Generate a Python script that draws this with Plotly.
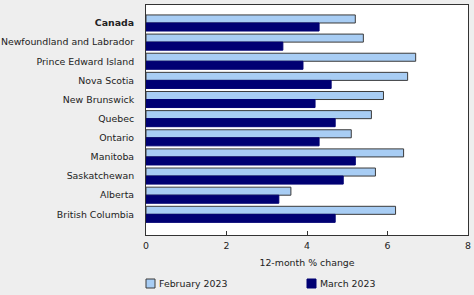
import plotly.graph_objects as go

regions = ["Canada", "Newfoundland and Labrador", "Prince Edward Island", "Nova Scotia",
           "New Brunswick", "Quebec", "Ontario", "Manitoba", "Saskatchewan", "Alberta",
           "British Columbia"]
region_labels = ["<b>Canada</b>"] + regions[1:]
feb_2023 = [5.2, 5.4, 6.7, 6.5, 5.9, 5.6, 5.1, 6.4, 5.7, 3.6, 6.2]
mar_2023 = [4.3, 3.4, 3.9, 4.6, 4.2, 4.7, 4.3, 5.2, 4.9, 3.3, 4.7]
x_ticks = [0, 2, 4, 6, 8]
series_names = ["February 2023", "March 2023"]
series_colors = ["#a8cdf4", "#000073"]
outline_colors = ["#3a3a3a", "#000073"]

FONT = "DejaVu Sans"
FS = 9.4

fig = go.Figure()
for name, vals, col, oc in zip(series_names, [feb_2023, mar_2023], series_colors, outline_colors):
    fig.add_trace(go.Bar(y=regions, x=vals, orientation="h", name=name,
                         marker=dict(color=col, line=dict(color=oc, width=1))))

# plot area in pixels: x 146..468, y 5..235
L, R, T, B = 146, 468, 5, 235
W, H = R - L, B - T
def px(x):
    return (x - L) / W
def py(y):
    return (B - y) / H

# manual legend
legend_x = [146, 307]
for name, col, oc, lx in zip(series_names, series_colors, outline_colors, legend_x):
    fig.add_shape(type="rect", xref="paper", yref="paper",
                  x0=px(lx), x1=px(lx + 9), y0=py(288), y1=py(279),
                  fillcolor=col, line=dict(color=oc, width=1))
    fig.add_annotation(xref="paper", yref="paper", x=px(lx + 11), y=py(283.5),
                       text=name, showarrow=False, xanchor="left", yanchor="middle",
                       font=dict(family=FONT, size=FS, color="#222222"))

fig.update_layout(
    width=474, height=295,
    margin=dict(l=L, r=474 - R, t=T, b=295 - B, autoexpand=False),
    paper_bgcolor="#eeeeee", plot_bgcolor="#ffffff",
    font=dict(family=FONT, size=FS, color="#222222"),
    barmode="group", bargap=0.16, bargroupgap=0.0,
    showlegend=False,
    xaxis=dict(range=[0, 8], tickvals=x_ticks, ticks="inside", ticklen=4, tickcolor="#333333",
               showline=True, linecolor="#333333", linewidth=1, mirror=True, showgrid=False,
               zeroline=False, automargin=False, tickfont=dict(size=FS), ticklabelstandoff=2,
               title=dict(text="12-month % change", standoff=9, font=dict(size=FS))),
    yaxis=dict(categoryorder="array", categoryarray=regions, range=[11.08, -0.94],
               tickvals=regions, ticktext=region_labels, ticks="", showline=True,
               linecolor="#333333", linewidth=1, mirror=True, showgrid=False,
               automargin=False, ticklabelstandoff=9, tickfont=dict(size=FS)),
)
fig.write_html("out.html")
